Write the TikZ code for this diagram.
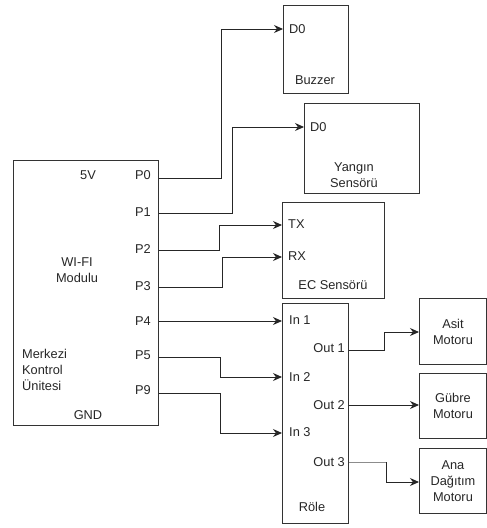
\documentclass[tikz,border=0pt]{standalone}
\usepackage{fontspec}
\setmainfont{Liberation Sans}
\usetikzlibrary{arrows.meta}
\begin{document}
\begin{tikzpicture}[x=1pt,y=-1pt,
  box/.style={draw=black!80, line width=0.9pt, anchor=north west, inner sep=0pt},
  lbl/.style={font=\fontsize{12.8}{16}\selectfont, inner sep=0pt, text=black!85},
  wire/.style={draw=black!85, line width=0.9pt, -{Stealth[length=9pt,width=8pt]}},
  gwire/.style={draw=black!45, line width=0.9pt},
  gtip/.style={draw=black!85, line width=0.9pt, -{Stealth[length=9pt,width=8pt]}}]
\useasboundingbox (0,0) rectangle (487,528);

% boxes
\node[box, minimum width=145pt, minimum height=265pt] (mcu) at (13,160) {};
\node[box, minimum width=65pt, minimum height=88pt] (bz) at (283,5) {};
\node[box, minimum width=115pt, minimum height=90pt] (ys) at (304,103) {};
\node[box, minimum width=102pt, minimum height=96pt] (ec) at (282,202) {};
\node[box, minimum width=66pt, minimum height=220pt] (rl) at (282,303) {};
\node[box, minimum width=67pt, minimum height=66pt] (am) at (419,298) {};
\node[box, minimum width=67pt, minimum height=65pt] (gm) at (419,373) {};
\node[box, minimum width=67pt, minimum height=65pt] (dm) at (419,448) {};

% main unit labels
\node[lbl] (v5) at (88,175) {5V};
\node[lbl] (gnd) at (88,415) {GND};
\node[lbl, align=center] (wifi) at (77,270) {WI-FI\\Modulu};
\node[lbl, align=left, anchor=west] (mku) at (22,370) {Merkezi\\Kontrol\\Ünitesi};
\node[lbl] (tp0) at (143,175) {P0};
\node[lbl] (tp1) at (143,212) {P1};
\node[lbl] (tp2) at (143,249) {P2};
\node[lbl] (tp3) at (143,286) {P3};
\node[lbl] (tp4) at (143,321) {P4};
\node[lbl] (tp5) at (143,355) {P5};
\node[lbl] (tp9) at (143,390) {P9};

% pin coordinates on main unit
\coordinate (p0) at (mcu.east |- 0,178);
\coordinate (p1) at (mcu.east |- 0,213);
\coordinate (p2) at (mcu.east |- 0,250);
\coordinate (p3) at (mcu.east |- 0,287);
\coordinate (p4) at (mcu.east |- 0,321);
\coordinate (p5) at (mcu.east |- 0,357);
\coordinate (p9) at (mcu.east |- 0,393);

% buzzer
\node[lbl, anchor=west] (bzd0) at (289,29) {D0};
\node[lbl] (bzn) at (315,80) {Buzzer};
% yangin
\node[lbl, anchor=west] (ysd0) at (310,127) {D0};
\node[lbl, align=center] (ysn) at (354,175) {Yangın\\Sensörü};
% EC
\node[lbl, anchor=west] (tx) at (288,224) {TX};
\node[lbl, anchor=west] (rx) at (288,256) {RX};
\node[lbl] (ecn) at (333,285) {EC Sensörü};
% role
\node[lbl, anchor=west] (in1) at (289,320) {In 1};
\node[lbl, anchor=west] (in2) at (289,377) {In 2};
\node[lbl, anchor=west] (in3) at (289,432) {In 3};
\node[lbl, anchor=east] (out1) at (345,348) {Out 1};
\node[lbl, anchor=east] (out2) at (345,405) {Out 2};
\node[lbl, anchor=east] (out3) at (345,462) {Out 3};
\node[lbl] (rln) at (312,507) {Röle};
% motors
\node[lbl, align=center] (amn) at (am.center) {Asit\\Motoru};
\node[lbl, align=center] (gmn) at (gm.center) {Gübre\\Motoru};
\node[lbl, align=center] (dmn) at (dm.center) {Ana\\Dağıtım\\Motoru};

% connectors
\draw[wire] (p0) -- (221,178) |- (bz.west |- 0,29);
\draw[wire] (p1) -- (232,213) |- (ys.west |- 0,127);
\draw[wire] (p2) -- (219,250) |- (ec.west |- 0,225);
\draw[wire] (p3) -- (222,287) |- (ec.west |- 0,257);
\draw[wire] (p4) -- (rl.west |- 0,321);
\draw[wire] (p5) -- (220,357) |- (rl.west |- 0,377);
\draw[wire] (p9) -- (220,393) |- (rl.west |- 0,433);

\draw[wire] (rl.east |- 0,350) -- (384,350) |- (am.west |- 0,332);
\draw[wire] (rl.east |- 0,405) -- (gm.west |- 0,405);
\draw[gwire] (rl.east |- 0,462) -- (386,462);
\draw[gtip] (386,462) |- (dm.west |- 0,482);
\end{tikzpicture}
\end{document}
